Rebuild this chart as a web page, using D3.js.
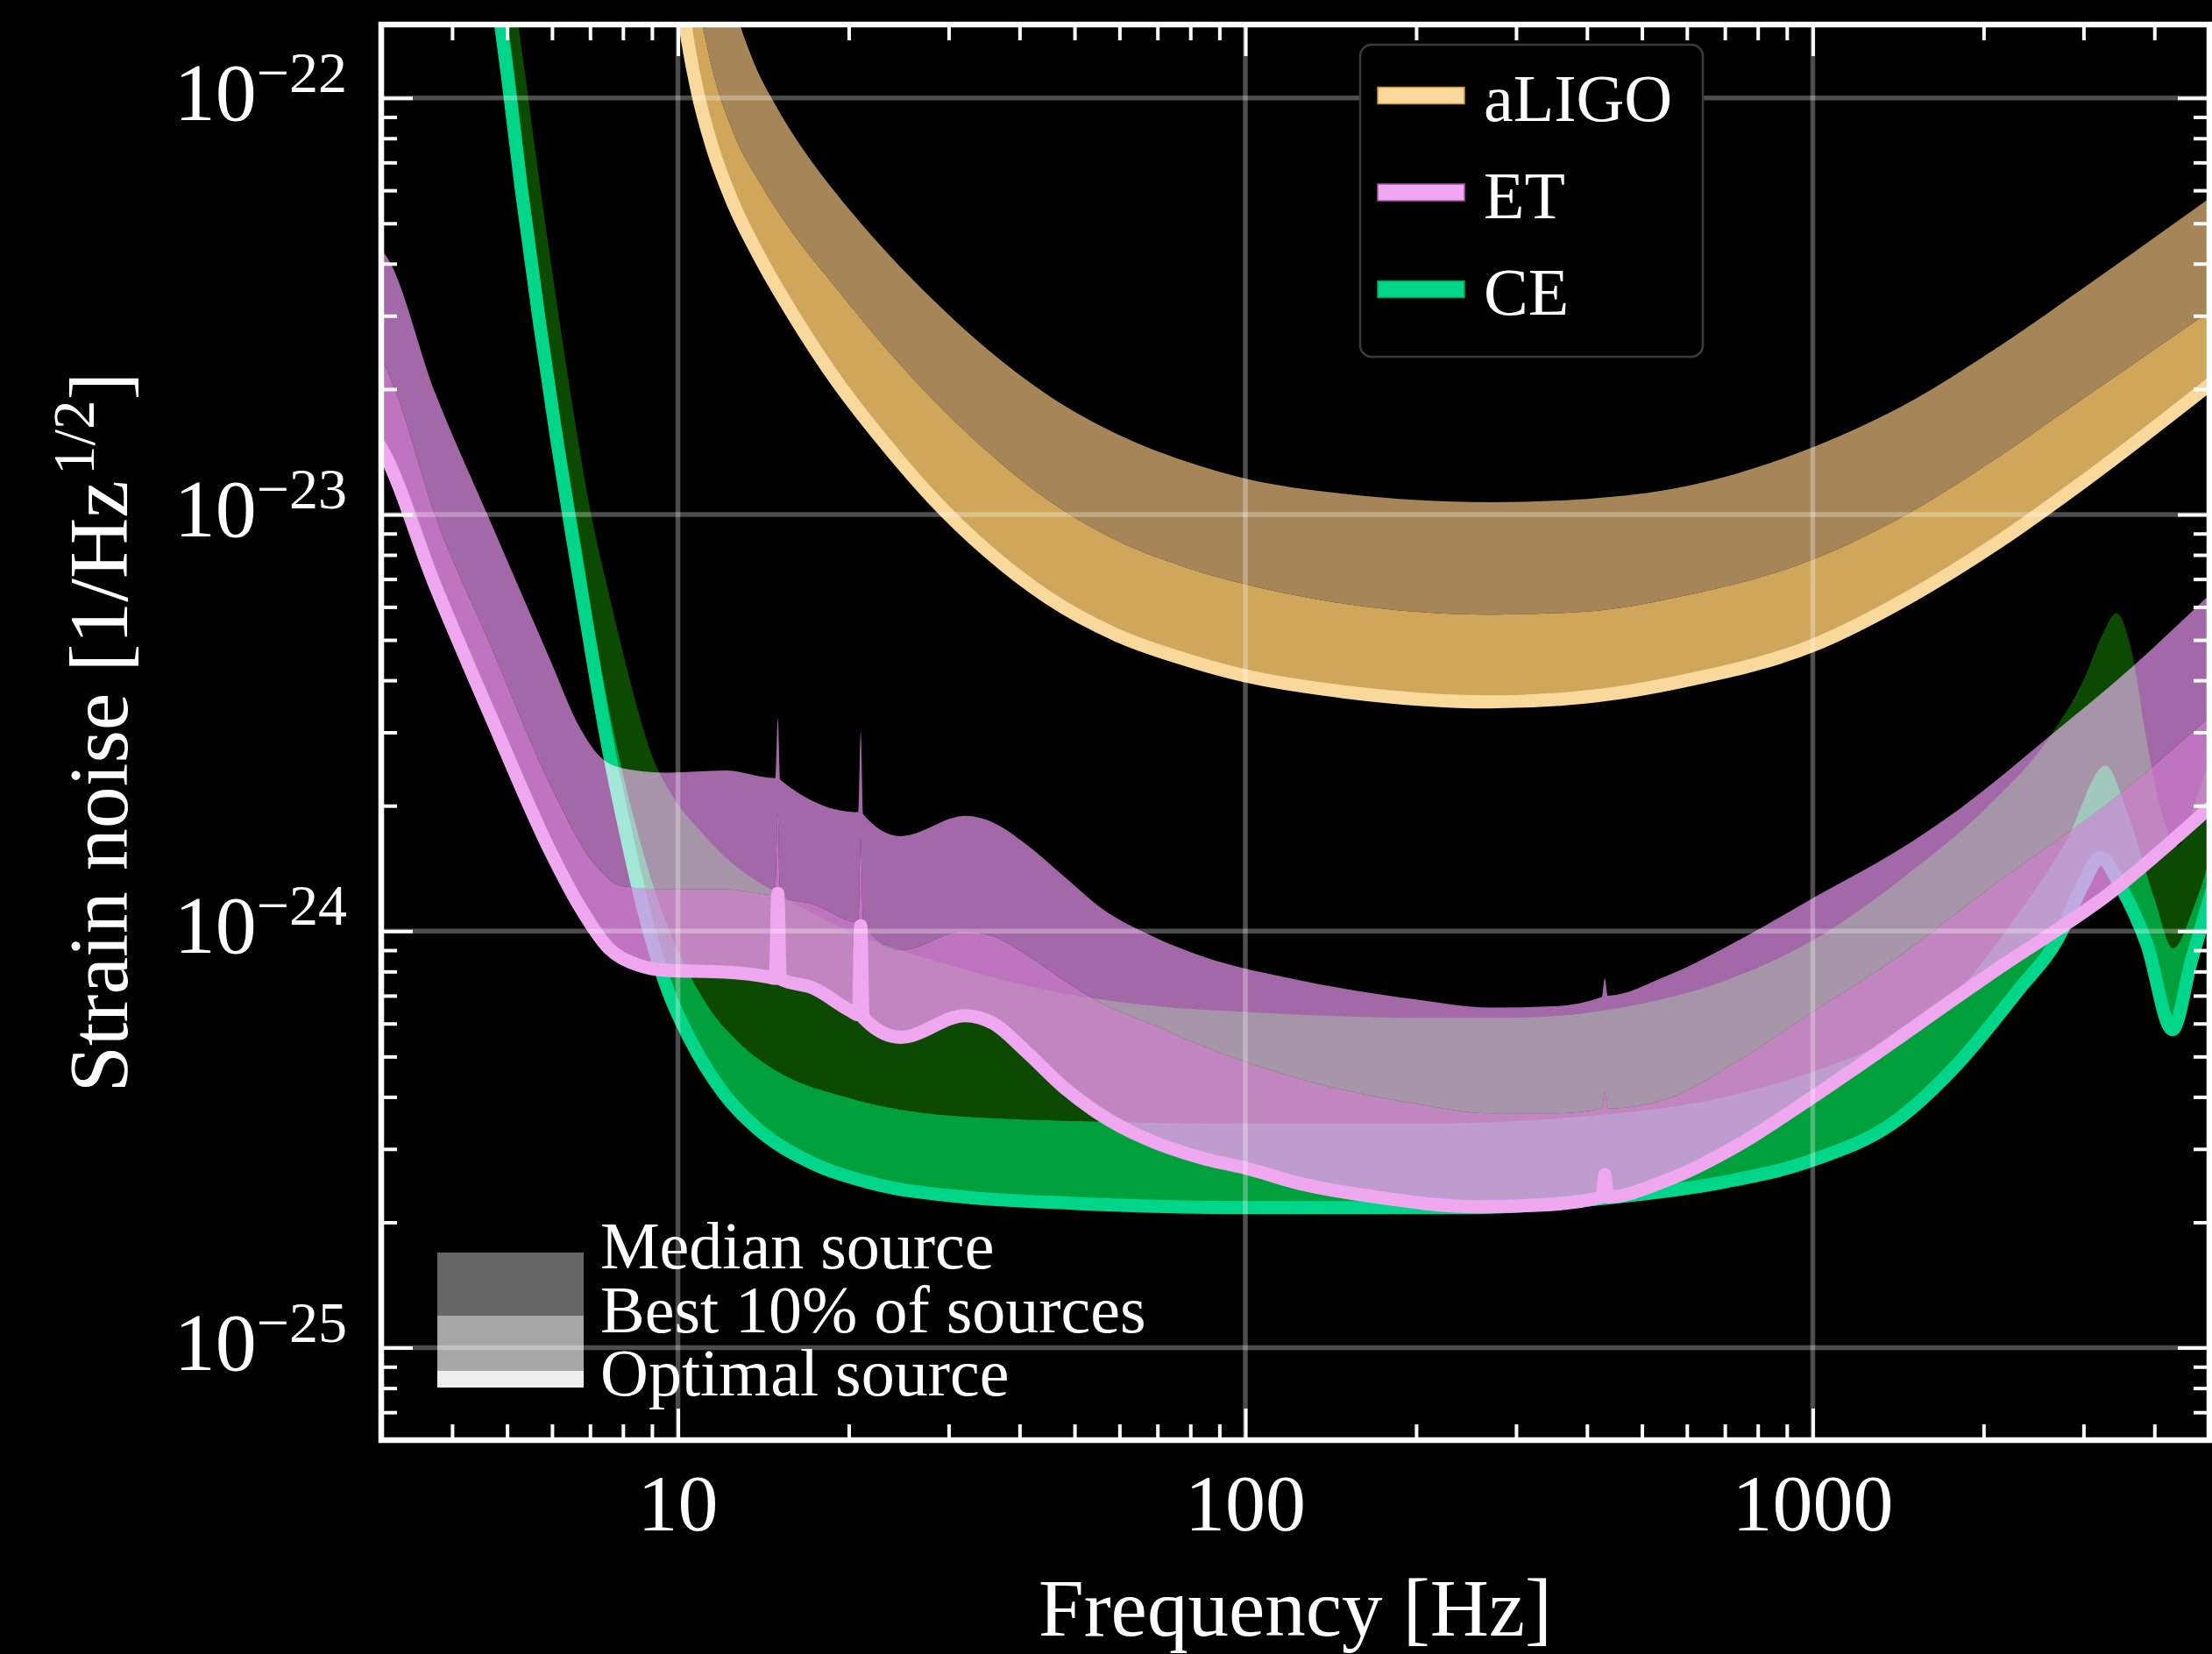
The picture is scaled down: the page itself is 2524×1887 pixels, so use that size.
<!DOCTYPE html>
<html>
<head>
<meta charset="utf-8">
<script src="https://cdn.jsdelivr.net/npm/d3@7"></script>
<style>
  html, body { margin: 0; padding: 0; background: #000; }
  svg { display: block; }
</style>
</head>
<body>
<div id="chart"></div>
<script>
// ---- data (frequency in Hz, strain in 1/sqrt(Hz)) ----
const aligoOptF = [10.0, 10.3, 10.8, 11.5, 12.5, 14, 16, 19, 23, 28, 35, 45, 60, 80, 100, 150, 270, 400, 600, 1000, 1500, 2100, 3000, 5050];
const aligoOptH = [2.1e-22, 1.5e-22, 1.05e-22, 7.6e-23, 5.6e-23, 4.1e-23, 3.0e-23, 2.1e-23, 1.5e-23, 1.1e-23, 8.2e-24, 6.3e-24, 5.1e-24, 4.45e-24, 4.1e-24, 3.75e-24, 3.55e-24, 3.65e-24, 4.0e-24, 4.85e-24, 6.4e-24, 8.5e-24, 1.2e-23, 2.07e-23];
const aligoBestF = [10.6, 11.0, 11.6, 12.5, 14, 16, 19, 23, 28, 35, 45, 60, 80, 100, 150, 270, 400, 600, 1000, 1500, 2100, 3000, 5050];
const aligoBestH = [2.1e-22, 1.55e-22, 1.12e-22, 8.3e-23, 6.2e-23, 4.7e-23, 3.5e-23, 2.55e-23, 1.9e-23, 1.42e-23, 1.08e-23, 8.6e-24, 7.4e-24, 6.8e-24, 6.1e-24, 5.75e-24, 5.85e-24, 6.4e-24, 7.8e-24, 1.02e-23, 1.36e-23, 1.9e-23, 3.1e-23];
const aligoMedF = [12.0, 12.6, 13.5, 15, 17, 19, 23, 28, 35, 45, 60, 80, 100, 150, 270, 400, 600, 1000, 1500, 2100, 3000, 5050];
const aligoMedH = [2.2e-22, 1.65e-22, 1.25e-22, 9.4e-23, 7.2e-23, 5.9e-23, 4.35e-23, 3.3e-23, 2.5e-23, 1.93e-23, 1.55e-23, 1.33e-23, 1.22e-23, 1.12e-23, 1.07e-23, 1.09e-23, 1.17e-23, 1.45e-23, 1.88e-23, 2.5e-23, 3.5e-23, 5.8e-23];

const etOptF = [2.95, 3.03, 3.71, 4.69, 5.95, 6.7, 7.55, 8.49, 9.55, 12.1, 14.5, 14.85, 15.0, 15.15, 17.3, 20.1, 20.8, 21.0, 21.2, 24.7, 32.1, 36, 41, 48, 56, 66, 84, 100, 126, 170, 254, 334, 425, 430, 435, 552, 750, 1000, 2112, 3355, 5050];
const etOptH = [1.5e-23, 1.41e-23, 6.9e-24, 3.25e-24, 1.56e-24, 1.15e-24, 9.1e-25, 8.3e-25, 8.05e-25, 7.97e-25, 7.75e-25, 7.7e-25, 1.23e-24, 7.68e-25, 7.3e-25, 6.45e-25, 6.3e-25, 1.03e-24, 6.2e-25, 5.56e-25, 6.27e-25, 6.0e-25, 5.15e-25, 4.2e-25, 3.6e-25, 3.2e-25, 2.85e-25, 2.7e-25, 2.47e-25, 2.3e-25, 2.18e-25, 2.2e-25, 2.3e-25, 2.6e-25, 2.3e-25, 2.52e-25, 3.1e-25, 4.0e-25, 8.1e-25, 1.24e-24, 2.0e-24];
const etBestF = [2.95, 3.05, 3.19, 3.71, 4.69, 5.95, 7.1, 8.0, 9.55, 12.1, 14.85, 15.0, 15.15, 17.3, 20.8, 21.0, 21.2, 24.7, 32.1, 36, 41, 48, 56, 70, 84, 126, 200, 270, 350, 425, 430, 435, 552, 750, 1000, 1400, 2100, 3350, 5050];
const etBestH = [2.4e-23, 2.26e-23, 1.95e-23, 1.02e-23, 4.8e-24, 2.25e-24, 1.46e-24, 1.28e-24, 1.26e-24, 1.26e-24, 1.22e-24, 1.92e-24, 1.21e-24, 1.16e-24, 1.05e-24, 1.66e-24, 1.04e-24, 9.0e-25, 1.0e-24, 9.7e-25, 8.8e-25, 7.6e-25, 6.7e-25, 5.9e-25, 5.3e-25, 4.4e-25, 3.85e-25, 3.65e-25, 3.65e-25, 3.75e-25, 4.1e-25, 3.75e-25, 3.95e-25, 4.95e-25, 6.4e-25, 8.6e-25, 1.3e-24, 2.05e-24, 3.3e-24];
const etMedF = [2.95, 3.05, 3.74, 4.69, 5.95, 6.69, 7.18, 8.0, 9.55, 12.1, 14.85, 15.0, 15.15, 20.8, 21.0, 21.2, 24.7, 32.1, 36, 41, 48, 56, 70, 84, 126, 200, 270, 350, 425, 430, 435, 552, 750, 1000, 1400, 1800, 2625, 3650, 5050];
const etMedH = [4.4e-23, 4.2e-23, 1.95e-23, 9.5e-24, 4.49e-24, 3.11e-24, 2.68e-24, 2.46e-24, 2.4e-24, 2.43e-24, 2.33e-24, 3.24e-24, 2.31e-24, 1.93e-24, 3.01e-24, 1.91e-24, 1.69e-24, 1.89e-24, 1.82e-24, 1.62e-24, 1.35e-24, 1.13e-24, 9.6e-25, 8.7e-25, 7.6e-25, 6.85e-25, 6.55e-25, 6.6e-25, 6.95e-25, 7.7e-25, 7.0e-25, 7.8e-25, 9.6e-25, 1.2e-24, 1.55e-24, 1.95e-24, 2.95e-24, 4.3e-24, 6.5e-24];

const ceOptF = [4.8, 5.0, 5.3, 5.7, 6.1, 6.5, 7.0, 7.5, 8.0, 8.9, 9.6, 10.5, 12, 14, 17, 22, 32, 50, 100, 250, 438, 700, 1000, 1400, 1800, 2300, 2716, 3000, 3213, 3487, 3880, 4305, 4650, 5050];
const ceOptH = [1.75e-22, 1.15e-22, 6.0e-23, 2.9e-23, 1.55e-23, 9.0e-24, 4.9e-24, 2.85e-24, 1.85e-24, 1.0e-24, 7.2e-25, 5.5e-25, 4.1e-25, 3.3e-25, 2.8e-25, 2.48e-25, 2.3e-25, 2.22e-25, 2.17e-25, 2.17e-25, 2.29e-25, 2.5e-25, 2.82e-25, 3.5e-25, 4.8e-25, 7.2e-25, 9.7e-25, 1.3e-24, 1.5e-24, 1.28e-24, 9.3e-25, 5.8e-25, 8.5e-25, 1.25e-24];
const ceBestF = [4.95, 5.15, 5.45, 5.85, 6.25, 6.7, 7.2, 7.75, 8.3, 9.3, 10.2, 11.3, 13, 15, 20, 30, 55, 100, 200, 400, 700, 1000, 1400, 1800, 2300, 2800, 3281, 3600, 4000, 4315, 4700, 5050];
const ceBestH = [1.75e-22, 1.15e-22, 6.0e-23, 2.9e-23, 1.55e-23, 9.0e-24, 4.9e-24, 2.9e-24, 1.95e-24, 1.15e-24, 8.5e-25, 6.6e-25, 5.3e-25, 4.6e-25, 3.98e-25, 3.61e-25, 3.49e-25, 3.45e-25, 3.45e-25, 3.6e-25, 4.0e-25, 4.6e-25, 5.6e-25, 7.2e-25, 1.1e-24, 1.65e-24, 2.5e-24, 1.9e-24, 1.2e-24, 9.1e-25, 1.15e-24, 1.55e-24];
const ceMedF = [5.15, 5.35, 5.7, 6.1, 6.55, 7.03, 7.45, 7.9, 8.4, 8.9, 9.7, 10.9, 12.5, 15, 20, 30, 45, 70, 100, 200, 300, 500, 700, 1000, 1500, 2000, 2625, 3000, 3250, 3426, 3652, 3880, 4155, 4400, 4700, 5050];
const ceMedH = [1.75e-22, 1.2e-22, 6.3e-23, 3.3e-23, 1.75e-23, 1.0e-23, 7.0e-24, 5.0e-24, 3.6e-24, 2.75e-24, 2.15e-24, 1.75e-24, 1.45e-24, 1.23e-24, 1.0e-24, 8.3e-25, 7.2e-25, 6.6e-25, 6.4e-25, 6.2e-25, 6.2e-25, 6.7e-25, 7.6e-25, 9.5e-25, 1.4e-24, 1.95e-24, 2.95e-24, 4.0e-24, 5.2e-24, 5.8e-24, 4.67e-24, 2.84e-24, 1.85e-24, 1.6e-24, 2.0e-24, 2.7e-24];

const detectorNames = ["aLIGO", "ET", "CE"];
const sourceLabels = ["Median source", "Best 10% of sources", "Optimal source"];

const xMajorTicks = [10, 100, 1000];
const xMinorTicks = [3, 4, 5, 6, 7, 8, 9, 20, 30, 40, 50, 60, 70, 80, 90,
    200, 300, 400, 500, 600, 700, 800, 900, 2000, 3000, 4000, 5000];
const xTickLabels = ["10", "100", "1000"];
const yMajorTicks = [1e-25, 1e-24, 1e-23, 1e-22];
const yMinorTicks = [7e-26, 8e-26, 9e-26,
    2e-25, 3e-25, 4e-25, 5e-25, 6e-25, 7e-25, 8e-25, 9e-25,
    2e-24, 3e-24, 4e-24, 5e-24, 6e-24, 7e-24, 8e-24, 9e-24,
    2e-23, 3e-23, 4e-23, 5e-23, 6e-23, 7e-23, 8e-23, 9e-23];
const yTickExponents = ["−25", "−24", "−23", "−22"];

// ---- layout ----
const W = 2524, H = 1887;
const plot = {left: 435, right: 2521, top: 28, bottom: 1643};
const font = "'Liberation Serif', 'DejaVu Serif', serif";
const majorLen = 36, minorLen = 18;

const x = d3.scaleLog().domain([3, 5000]).range([plot.left, plot.right]);
const y = d3.scaleLog().domain([6e-26, 1.5e-22]).range([plot.bottom, plot.top]);

const svg = d3.select("#chart").append("svg")
    .attr("width", W)
    .attr("height", H);

svg.append("rect")
    .attr("width", W).attr("height", H)
    .attr("fill", "#000");

svg.append("defs").append("clipPath")
    .attr("id", "plot-clip")
    .append("rect")
    .attr("x", plot.left).attr("y", plot.top)
    .attr("width", plot.right - plot.left)
    .attr("height", plot.bottom - plot.top);

const line = d3.line()
    .x(d => x(d[0]))
    .y(d => y(d[1]))
    .curve(d3.curveMonotoneX);

// closed region between a lower and an upper curve
function band(lowF, lowH, highF, highH) {
    const upper = line(d3.zip(highF, highH));
    const lower = line(d3.zip(lowF, lowH).reverse());
    return upper + "L" + lower.slice(1) + "Z";
}

const detectors = [
    {name: "CE", opt: [ceOptF, ceOptH], best: [ceBestF, ceBestH], med: [ceMedF, ceMedH],
     outer: {fill: "#0b4a00"}, inner: {fill: "#00a03c"}, line: "#00d68a"},
    {name: "ET", opt: [etOptF, etOptH], best: [etBestF, etBestH], med: [etMedF, etMedH],
     outer: {fill: "#a268a8", blend: "screen"}, inner: {fill: "#ff9bff", opacity: 0.75}, line: "#efa7ef"},
    {name: "aLIGO", opt: [aligoOptF, aligoOptH], best: [aligoBestF, aligoBestH], med: [aligoMedF, aligoMedH],
     outer: {fill: "#a68658"}, inner: {fill: "#cfa65a"}, line: "#f9d89b"}
];

const plotG = svg.append("g")
    .attr("clip-path", "url(#plot-clip)");

plotG.append("rect")
    .attr("x", plot.left).attr("y", plot.top)
    .attr("width", plot.right - plot.left)
    .attr("height", plot.bottom - plot.top)
    .attr("fill", "#000");

detectors.forEach(det => {
    plotG.append("path")
        .attr("d", band(det.best[0], det.best[1], det.med[0], det.med[1]))
        .attr("fill", det.outer.fill)
        .attr("fill-opacity", det.outer.opacity || 1)
        .style("mix-blend-mode", det.outer.blend || "normal");
    plotG.append("path")
        .attr("d", band(det.opt[0], det.opt[1], det.best[0], det.best[1]))
        .attr("fill", det.inner.fill)
        .attr("fill-opacity", det.inner.opacity || 1)
        .style("mix-blend-mode", det.inner.blend || "normal");
    plotG.append("path")
        .attr("d", line(d3.zip(det.opt[0], det.opt[1])))
        .attr("fill", "none")
        .attr("stroke", det.line)
        .attr("stroke-width", 15)
        .attr("stroke-linejoin", "round")
        .attr("stroke-linecap", "round");
});

// ---- source legend (lower left) ----
const srcLegend = svg.append("g");
const srcColors = ["#666666", "#a6a6a6", "#eeeeee"];
const srcRows = [[1429, 1501], [1501, 1564], [1564, 1583]];
srcRows.forEach((r, i) => {
    srcLegend.append("rect")
        .attr("x", 499).attr("y", r[0])
        .attr("width", 167).attr("height", r[1] - r[0])
        .attr("fill", srcColors[i]);
});
sourceLabels.forEach((t, i) => {
    srcLegend.append("text")
        .attr("x", 685)
        .attr("y", 1447 + i * 72.5)
        .attr("fill", "#fff")
        .style("font-family", font)
        .style("font-size", "76px")
        .text(t);
});

// ---- grid ----
const gridG = svg.append("g")
    .attr("clip-path", "url(#plot-clip)");
gridG.selectAll("line.gx")
    .data(xMajorTicks)
    .join("line")
    .attr("class", "gx")
    .attr("x1", d => x(d)).attr("x2", d => x(d))
    .attr("y1", plot.top).attr("y2", plot.bottom);
gridG.selectAll("line.gy")
    .data(yMajorTicks)
    .join("line")
    .attr("class", "gy")
    .attr("x1", plot.left).attr("x2", plot.right)
    .attr("y1", d => y(d)).attr("y2", d => y(d));
gridG.selectAll("line")
    .attr("stroke", "#fff")
    .attr("stroke-opacity", 0.3)
    .attr("stroke-width", 5.5);

// ---- ticks (inward, all four sides) ----
function styleAxis(g) {
    g.select(".domain").remove();
    g.selectAll(".tick line")
        .attr("stroke", "#fff")
        .attr("stroke-width", 4);
    g.selectAll(".tick text").remove();
}

[[xMajorTicks, majorLen], [xMinorTicks, minorLen]].forEach(([vals, len]) => {
    svg.append("g")
        .attr("transform", `translate(0,${plot.bottom})`)
        .call(d3.axisBottom(x).tickValues(vals).tickSize(-len).tickFormat(""))
        .call(styleAxis);
    svg.append("g")
        .attr("transform", `translate(0,${plot.top})`)
        .call(d3.axisTop(x).tickValues(vals).tickSize(-len).tickFormat(""))
        .call(styleAxis);
});
[[yMajorTicks, majorLen], [yMinorTicks, minorLen]].forEach(([vals, len]) => {
    svg.append("g")
        .attr("transform", `translate(${plot.left},0)`)
        .call(d3.axisLeft(y).tickValues(vals).tickSize(-len).tickFormat(""))
        .call(styleAxis);
    svg.append("g")
        .attr("transform", `translate(${plot.right},0)`)
        .call(d3.axisRight(y).tickValues(vals).tickSize(-len).tickFormat(""))
        .call(styleAxis);
});

svg.append("rect")
    .attr("x", plot.left).attr("y", plot.top)
    .attr("width", plot.right - plot.left)
    .attr("height", plot.bottom - plot.top)
    .attr("fill", "none")
    .attr("stroke", "#fff")
    .attr("stroke-width", 6.5);

// ---- tick labels ----
svg.selectAll("text.xlab")
    .data(xMajorTicks)
    .join("text")
    .attr("class", "xlab")
    .attr("x", d => x(d))
    .attr("y", 1746)
    .attr("text-anchor", "middle")
    .attr("fill", "#fff")
    .style("font-family", font)
    .style("font-size", "92px")
    .text((d, i) => xTickLabels[i]);

const ylab = svg.selectAll("text.ylab")
    .data(yMajorTicks)
    .join("text")
    .attr("class", "ylab")
    .attr("x", 396)
    .attr("y", d => y(d) + 25)
    .attr("text-anchor", "end")
    .attr("fill", "#fff")
    .style("font-family", font)
    .style("font-size", "94px");
ylab.append("tspan").text("10");
ylab.append("tspan")
    .attr("dy", -32)
    .style("font-size", "66px")
    .text((d, i) => yTickExponents[i]);

// ---- axis titles ----
svg.append("text")
    .attr("x", (plot.left + plot.right) / 2)
    .attr("y", 1866)
    .attr("text-anchor", "middle")
    .attr("fill", "#fff")
    .style("font-family", font)
    .style("font-size", "93px")
    .text("Frequency [Hz]");

const yTitle = svg.append("text")
    .attr("transform", `translate(145,${(plot.top + plot.bottom) / 2}) rotate(-90)`)
    .attr("text-anchor", "middle")
    .attr("fill", "#fff")
    .style("font-family", font)
    .style("font-size", "96px");
yTitle.append("tspan").text("Strain noise [1/Hz");
yTitle.append("tspan")
    .attr("dx", 6).attr("dy", -38)
    .style("font-size", "67px")
    .text("1/2");
yTitle.append("tspan")
    .attr("dy", 38)
    .text("]");

// ---- detector legend ----
const legG = svg.append("g");
legG.append("rect")
    .attr("x", 1552).attr("y", 51)
    .attr("width", 391).attr("height", 356)
    .attr("rx", 13)
    .attr("fill", "#000")
    .attr("stroke", "#3c3c3c")
    .attr("stroke-width", 2.5);
const legendColors = {aLIGO: ["#f9d89b", "#c8902c"], ET: ["#efa7ef", "#b050b0"], CE: ["#00d68a", "#00a050"]};
detectorNames.forEach((n, i) => {
    const cy = 109 + i * 110.5;
    legG.append("rect")
        .attr("x", 1572).attr("y", cy - 9.5)
        .attr("width", 99).attr("height", 19)
        .attr("fill", legendColors[n][0])
        .attr("stroke", legendColors[n][1])
        .attr("stroke-width", 1.5);
    legG.append("text")
        .attr("x", 1693)
        .attr("y", cy + 29)
        .attr("fill", "#fff")
        .style("font-family", font)
        .style("font-size", "76px")
        .text(n);
});
</script>
</body>
</html>
